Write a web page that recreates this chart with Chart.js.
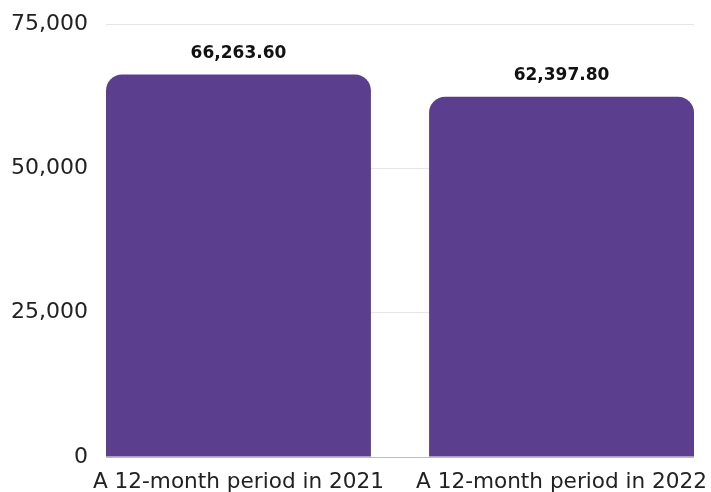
<!DOCTYPE html>
<html>
<head>
<meta charset="utf-8">
<script src="https://cdn.jsdelivr.net/npm/chart.js@4/dist/chart.umd.min.js"></script>
<style>
html,body{margin:0;padding:0;background:#fff;}
#wrap{width:711px;height:492px;}
</style>
</head>
<body>
<div id="wrap"><canvas id="c" width="711" height="492"></canvas></div>
<script>
const categories = ["A 12-month period in 2021", "A 12-month period in 2022"];
const values = [66263.60, 62397.80];
const valueLabels = ["66,263.60", "62,397.80"];
const yTicks = [0, 25000, 50000, 75000];

const FONT = "'DejaVu Sans', sans-serif";

const valueLabelPlugin = {
  id: 'valueLabels',
  afterDatasetsDraw(chart) {
    const ctx = chart.ctx;
    const meta = chart.getDatasetMeta(0);
    ctx.save();
    ctx.font = "bold 17px " + FONT;
    ctx.fillStyle = "#111";
    ctx.textAlign = "center";
    ctx.textBaseline = "middle";
    meta.data.forEach((bar, i) => {
      ctx.fillText(valueLabels[i], bar.x, bar.y - 21);
    });
    ctx.restore();
  }
};

new Chart(document.getElementById('c'), {
  type: 'bar',
  data: {
    datasets: [{
      data: values.map((v, i) => ({x: i, y: v})),
      backgroundColor: '#5B3E8D',
      borderRadius: {topLeft: 16, topRight: 16, bottomLeft: 0, bottomRight: 0},
      borderSkipped: 'bottom',
      barPercentage: 0.82,
      categoryPercentage: 1.0
    }]
  },
  options: {
    responsive: false,
    animation: false,
    devicePixelRatio: 1,
    layout: {padding: {top: 24, right: 17, left: 0, bottom: -7}},
    plugins: {legend: {display: false}, tooltip: {enabled: false}},
    scales: {
      x: {
        type: 'linear',
        offset: false,
        min: -0.41, max: 1.41,
        afterBuildTicks(scale) { scale.ticks = categories.map((c, i) => ({value: i})); },
        afterFit(scale) { scale.paddingLeft = 0; scale.paddingRight = 0; },
        grid: {display: false},
        border: {display: false},
        ticks: {color: '#222', font: {family: FONT, size: 21.6}, padding: 4, maxRotation: 0, autoSkip: false,
          callback: v => categories[v]}
      },
      y: {
        min: 0, max: 75000,
        afterBuildTicks(scale) { scale.ticks = yTicks.map(v => ({value: v})); },
        afterFit(scale) { scale.width = 106; scale.paddingTop = 0; scale.paddingBottom = 0; },
        grid: {
          color: ctx => ctx.tick && ctx.tick.value === 0 ? '#bdbdbd' : '#e6e6e6',
          drawTicks: false,
          lineWidth: 1
        },
        border: {display: false},
        ticks: {
          color: '#222',
          font: {family: FONT, size: 22},
          padding: 18,
          callback: v => v.toLocaleString('en-US')
        }
      }
    }
  },
  plugins: [valueLabelPlugin]
});
</script>
</body>
</html>
